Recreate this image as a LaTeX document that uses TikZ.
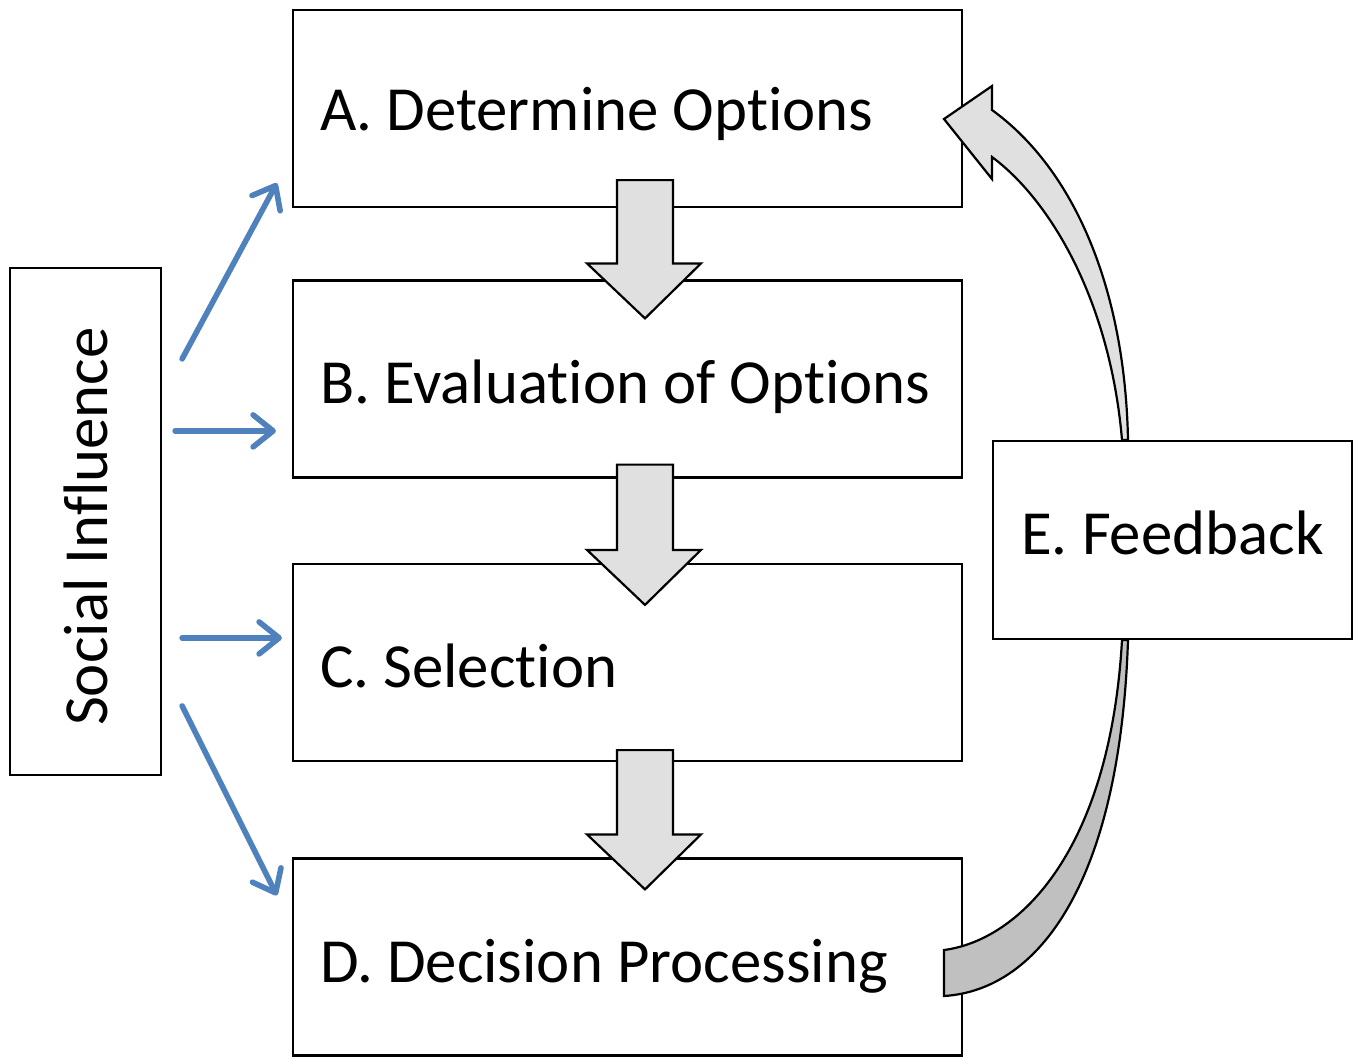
\documentclass[tikz,border=0pt]{standalone}
\usepackage{fontspec}
\setmainfont[Ligatures=NoCommon]{Carlito}
\usetikzlibrary{calc,arrows.meta}
\definecolor{siblue}{HTML}{4F81BD}
\definecolor{lightfill}{HTML}{E0E0E0}
\definecolor{darkfill}{HTML}{C0C0C0}
\tikzset{
  box/.style={draw=black, line width=1.1pt, fill=white, rectangle, inner ysep=0pt},
  stepbox/.style={box, minimum width=334.5pt, minimum height=98.5pt, inner xsep=13.5pt,
    font=\fontsize{31.4}{37}\selectfont, text depth=0pt},
  bluearrow/.style={draw=siblue, line width=2.8pt, line cap=round,
    -{Straight Barb[length=10pt,width=16pt,line cap=round,round]}},
  blockarrow/.style={draw=black, line width=1.1pt, fill=lightfill, line join=miter},
  curvearrow/.style={draw=black, line width=1.1pt, line join=miter}
}
\newcommand\blockarr[5]{%
  \draw[blockarrow]
    ($(#1.south)+(-10.5,-#3)$) -- ($(#1.south)+(45.5,-#3)$) --
    ($(#2.north)+(45.5,-#4)$) -- ($(#2.north)+(73.5,-#4)$) --
    ($(#2.north)+(17.5,#5)$) --
    ($(#2.north)+(-40.5,-#4)$) -- ($(#2.north)+(-10.5,-#4)$) -- cycle;}
\begin{document}
\begin{tikzpicture}[x=0.5pt,y=-0.5pt]
\useasboundingbox (0,0) rectangle (1360,1057);
% boxes
\node[stepbox, text height=21.5pt] (A) at (627.5,108.5) {\makebox[307.5pt][l]{A. Determine Options}};
\node[stepbox, text height=24pt] (B) at (627.5,379) {\makebox[307.5pt][l]{B. Evaluation of Options}};
\node[stepbox, text height=24.5pt] (C) at (627.5,662.5) {\makebox[307.5pt][l]{C. Selection}};
\node[stepbox, text height=25pt] (D) at (627.5,957) {\makebox[307.5pt][l]{D. Decision Processing}};
\node[box, minimum width=75.5pt, minimum height=253.5pt, inner sep=0pt] (S) at (85.5,521.5) {};
\node[rotate=90, font=\fontsize{31.4}{37}\selectfont] (Stext) at ($(S.center)+(0,5)$) {Social Influence};
\node[box, minimum width=179.5pt, minimum height=99pt, text height=14.5pt, text depth=0pt,
  font=\fontsize{31.4}{37}\selectfont] (E) at (1172.5,540) {E. Feedback};
% block arrows
\blockarr{A}{B}{28}{16}{39}
\blockarr{B}{C}{14}{13}{42}
\blockarr{C}{D}{12}{23}{32}
% blue arrows
\coordinate (s1) at ($(S.north east)+(20,92)$);
\coordinate (s2) at ($(S.north east)+(13,164)$);
\coordinate (s3) at ($(S.north east)+(20,371)$);
\coordinate (s4) at ($(S.north east)+(20,439)$);
\draw[bluearrow] (s1) -- ($(A.south west)+(-15,-25)$);
\draw[bluearrow] (s2) -- (s2 -| {$(B.west)+(-16,0)$});
\draw[bluearrow] (s3) -- (s3 -| {$(C.west)+(-10,0)$});
\draw[bluearrow] (s4) -- ($(D.north west)+(-15,38)$);
% feedback arrows
\draw[curvearrow, fill=lightfill]
  ($(E.north)+(-50.5,0)$) .. controls (1110,300) and (1050,200) .. (992,157)
  -- (992,179) -- (944,119) -- (992,86) -- (992,110)
  .. controls (1075,170) and (1125,290) .. ($(E.north)+(-44.5,0)$) -- cycle;
\draw[curvearrow, fill=darkfill]
  ($(E.south)+(-50.5,0)$) .. controls (1110,850) and (1020,940) .. (944,950)
  -- (944,996)
  .. controls (1040,990) and (1120,880) .. ($(E.south)+(-44.5,0)$) -- cycle;
\end{tikzpicture}
\end{document}
